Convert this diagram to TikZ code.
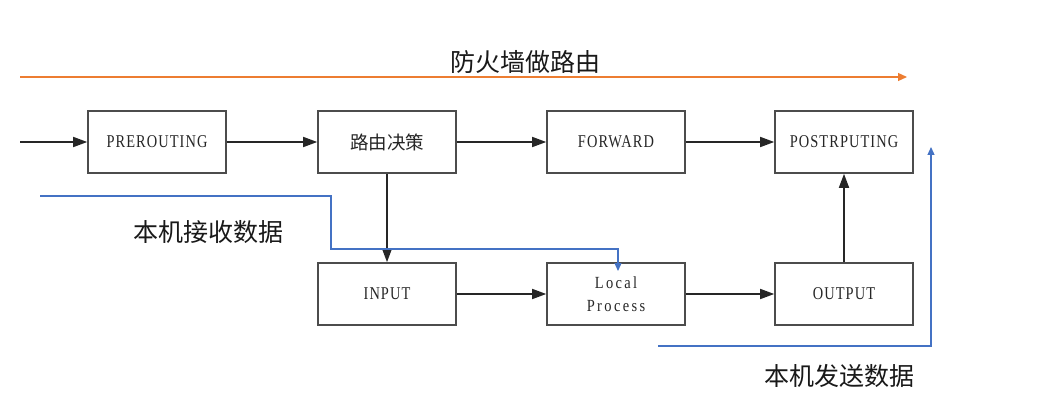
\documentclass[tikz,border=0pt]{standalone}
\usepackage{fontspec}
\newfontfamily\boxfont[FakeStretch=0.8,LetterSpace=6]{Liberation Serif}
\newfontfamily\localfont[FakeStretch=0.85,LetterSpace=14]{Liberation Serif}
\newfontfamily\cjk{Noto Sans CJK SC}
\usetikzlibrary{arrows.meta}
\definecolor{myorange}{HTML}{ED7D31}
\definecolor{myblue}{HTML}{4472C4}
\begin{document}
\begin{tikzpicture}[x=1pt,y=-1pt,
  box/.style={draw=black!70, line width=1.6pt, minimum width=138pt, minimum height=62pt, inner sep=0pt, font=\boxfont\fontsize{18}{23}\selectfont, text=black!85, align=center},
  flow/.style={line width=1.6pt, draw=black!85, -{Triangle[length=14pt,width=10pt]}},
  blueline/.style={line width=1.2pt, draw=myblue, -{Triangle[length=8pt,width=7pt]}},
  orangeline/.style={line width=1.2pt, draw=myorange, -{Triangle[length=9pt,width=8pt]}},
  label/.style={font=\cjk\fontsize{25}{30}\selectfont, text=black!90, inner sep=0pt}
]
\useasboundingbox (0,0) rectangle (1046,414);
\fill[white] (0,0) rectangle (1046,414);

\node[box] (pre)    at (157,142) {PREROUTING};
\node[box, font=\cjk\fontsize{18.5}{22}\selectfont] (route) at (387,142) {路由决策};
\node[box] (fwd)    at (616,142) {FORWARD};
\node[box] (post)   at (844,142) {POSTRPUTING};
\node[box] (input)  at (387,294) {INPUT};
\node[box, font=\localfont\fontsize{17}{23}\selectfont] (local)  at (616,294) {Local\\Process};
\node[box] (output) at (844,294) {OUTPUT};

\coordinate (in) at (20,142);
\draw[flow] (in) -- (pre);
\draw[flow] (pre) -- (route);
\draw[flow] (route) -- (fwd);
\draw[flow] (fwd) -- (post);
\draw[flow] (route) -- (input);
\draw[flow] (input) -- (local);
\draw[flow] (local) -- (output);
\draw[flow] (output) -- (post);

% orange
\coordinate (o1) at (20,77);
\coordinate (o2) at (907,77);
\draw[orangeline] (o1) -- (o2);
\node[label] (t1) at (525,62) {防火墙做路由};

% blue receive
\coordinate (r1) at (40,196);
\coordinate (r2) at (331,196);
\coordinate (r3) at (331,249);
\coordinate (r4) at (618,249);
\coordinate (r5) at (618,271);
\draw[blueline] (r1) -- (r2) -- (r3) -- (r4) -- (r5);
\node[label] (t2) at (208,232) {本机接收数据};

% blue send
\coordinate (s1) at (658,346);
\coordinate (s2) at (931,346);
\coordinate (s3) at (931,147);
\draw[blueline] (s1) -- (s2) -- (s3);
\node[label] (t3) at (839,376) {本机发送数据};
\end{tikzpicture}
\end{document}
